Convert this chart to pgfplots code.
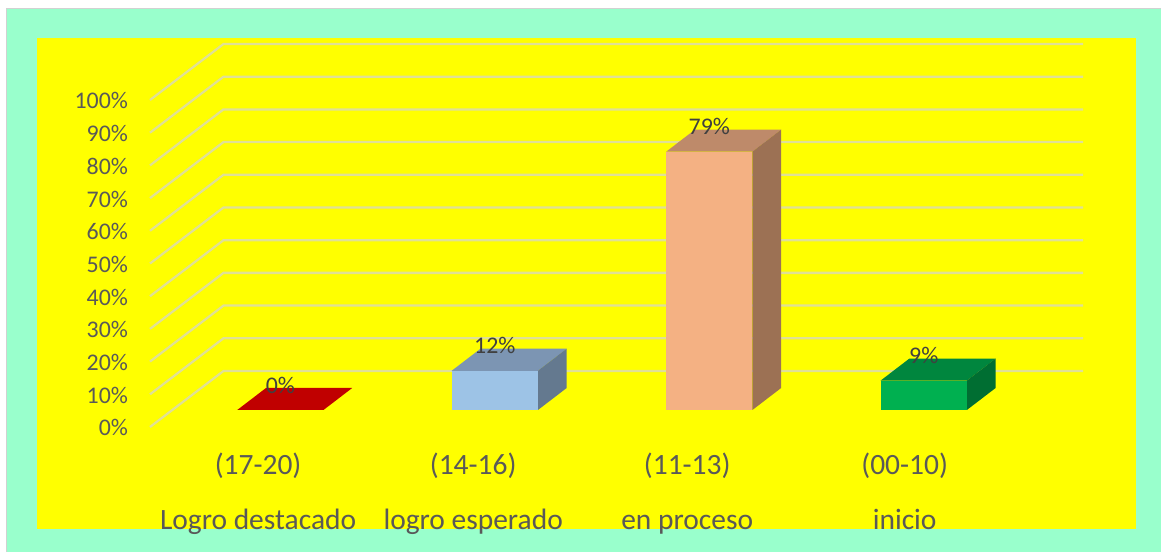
\documentclass[border=0pt]{standalone}
\usepackage{pgfplots}
\pgfplotsset{compat=1.18}
\usepackage{fontspec}
\setmainfont{Carlito}
\definecolor{mint}{RGB}{153,255,204}
\definecolor{yel}{RGB}{255,255,0}
\definecolor{gridc}{RGB}{224,224,150}
\definecolor{ticktxt}{RGB}{89,89,89}
\definecolor{lbl}{RGB}{64,64,64}
\definecolor{redbar}{RGB}{192,0,0}
\pgfplotsset{common/.style={
  at={(112.5pt,93.75pt)},anchor=south west,
  width=699.75pt,height=287.25pt,scale only axis,
  axis line style={draw=none},major tick length=0pt,clip=false,
  /pgf/number format/assume math mode=true}}
\begin{document}
\begin{tikzpicture}
\path[use as bounding box] (0,0) rectangle (870.75pt,414pt);
\fill[white] (0,0) rectangle (870.75pt,414pt);
\fill[black!18] (4.5pt,0) rectangle (870.75pt,408pt);
\fill[mint] (5.25pt,0) rectangle (870.75pt,407.25pt);
\fill[yel] (27.5pt,17.25pt) rectangle (852pt,385.5pt);
% wall and gridlines, with the percent labels
\begin{axis}[common,xmin=150,xmax=1083,ymin=0,ymax=117.13,
  xtick=\empty,
  ytick={0,10,20,30,40,50,60,70,80,90,100},
  yticklabels={0\%,10\%,20\%,30\%,40\%,50\%,60\%,70\%,80\%,90\%,100\%},
  yticklabel style={font=\fontsize{17.9}{20}\selectfont,text=ticktxt,anchor=east,xshift=-13pt,yshift=-0.7pt}]
\addplot[gridc,line width=1.7pt] coordinates {(150,0)(223.5,17.13)(1083,17.13)};
\addplot[gridc,line width=1.7pt] coordinates {(150,10)(223.5,27.13)(1083,27.13)};
\addplot[gridc,line width=1.7pt] coordinates {(150,20)(223.5,37.13)(1083,37.13)};
\addplot[gridc,line width=1.7pt] coordinates {(150,30)(223.5,47.13)(1083,47.13)};
\addplot[gridc,line width=1.7pt] coordinates {(150,40)(223.5,57.13)(1083,57.13)};
\addplot[gridc,line width=1.7pt] coordinates {(150,50)(223.5,67.13)(1083,67.13)};
\addplot[gridc,line width=1.7pt] coordinates {(150,60)(223.5,77.13)(1083,77.13)};
\addplot[gridc,line width=1.7pt] coordinates {(150,70)(223.5,87.13)(1083,87.13)};
\addplot[gridc,line width=1.7pt] coordinates {(150,80)(223.5,97.13)(1083,97.13)};
\addplot[gridc,line width=1.7pt] coordinates {(150,90)(223.5,107.13)(1083,107.13)};
\addplot[gridc,line width=1.7pt] coordinates {(150,100)(223.5,117.13)(1083,117.13)};
\end{axis}
% bars
\begin{axis}[common,xmin=-0.6079,xmax=3.7425,ymin=-5.2,ymax=111.93,
  ytick=\empty,
  xtick={-0.104,0.899,1.897,2.911},
  xticklabels={{(17-20)\\[18pt]Logro destacado},{(14-16)\\[18pt]logro esperado},{(11-13)\\[18pt]en proceso},{(00-10)\\[18pt]inicio\hspace{14pt}}},
  xticklabel style={font=\fontsize{22.1}{23}\selectfont,text=ticktxt,align=center,anchor=north,yshift=-16pt},
  nodes near coords={\pgfmathprintnumber{\pgfplotspointmeta}\%},
  nodes near coords style={font=\fontsize{17.9}{20}\selectfont,text=lbl,anchor=center,yshift=18.75pt}]
% Logro destacado
\addplot[fill=redbar,draw=none,nodes near coords={}] coordinates {(-0.201,0)(0.201,0)(0.335,6.73)(-0.067,6.73)} -- cycle;
\addplot[ybar,bar shift=0pt,bar width=64.6pt,fill=redbar,draw=none] coordinates {(0,0)};
% logro esperado
\addplot[fill={rgb,255:red,124;green,149;blue,179},draw=none,nodes near coords={}] coordinates {(0.799,12)(1.201,12)(1.335,18.73)(0.933,18.73)} -- cycle;
\addplot[fill={rgb,255:red,100;green,121;blue,143},draw=none,nodes near coords={}] coordinates {(1.201,0)(1.335,6.73)(1.335,18.73)(1.201,12)} -- cycle;
\addplot[ybar,bar shift=0pt,bar width=64.6pt,fill={rgb,255:red,157;green,195;blue,230},draw=none] coordinates {(1,12)};
% en proceso
\addplot[fill={rgb,255:red,190;green,138;blue,106},draw=none,nodes near coords={}] coordinates {(1.799,79)(2.201,79)(2.335,85.73)(1.933,85.73)} -- cycle;
\addplot[fill={rgb,255:red,156;green,113;blue,84},draw=none,nodes near coords={}] coordinates {(2.201,0)(2.335,6.73)(2.335,85.73)(2.201,79)} -- cycle;
\addplot[ybar,bar shift=0pt,bar width=64.6pt,fill={rgb,255:red,244;green,177;blue,131},draw=none] coordinates {(2,79)};
% inicio
\addplot[fill={rgb,255:red,0;green,134;blue,62},draw=none,nodes near coords={}] coordinates {(2.799,9)(3.201,9)(3.335,15.73)(2.933,15.73)} -- cycle;
\addplot[fill={rgb,255:red,0;green,110;blue,50},draw=none,nodes near coords={}] coordinates {(3.201,0)(3.335,6.73)(3.335,15.73)(3.201,9)} -- cycle;
\addplot[ybar,bar shift=0pt,bar width=64.6pt,fill={rgb,255:red,0;green,176;blue,80},draw=none] coordinates {(3,9)};
\end{axis}
\end{tikzpicture}
\end{document}
